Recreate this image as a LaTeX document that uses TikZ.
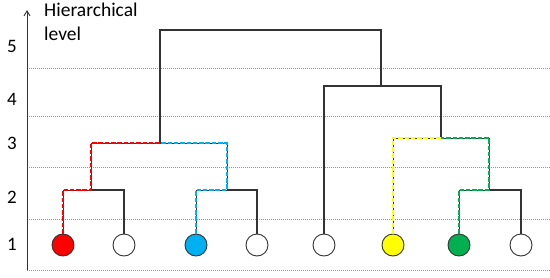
\documentclass[tikz,border=0pt]{standalone}
\usepackage{fontspec}
\setmainfont{Carlito}
\usetikzlibrary{arrows.meta}
\definecolor{cred}{HTML}{FF0000}
\definecolor{cblue}{HTML}{00B0F0}
\definecolor{cyellow}{HTML}{FFFF00}
\definecolor{cgreen}{HTML}{00B050}
\definecolor{lineg}{HTML}{333333}
\begin{document}
\begin{tikzpicture}[x=1pt,y=-1pt,
  leaf/.style={circle,draw=lineg,line width=0.9pt,minimum size=22pt,inner sep=0pt},
  grid/.style={draw=gray!85,line width=0.9pt,dash pattern=on 1pt off 1pt},
  link/.style={draw=lineg,line width=1.1pt},
  under/.style={draw=lineg,line width=0.7pt},
  hl/.style={line width=2pt,dash pattern=on 4.5pt off 1.8pt},
  lvl/.style={font=\fontsize{19}{19}\selectfont,anchor=center}
]
\useasboundingbox (0,0) rectangle (550,277);
% grid lines
\foreach \yy/\nm in {68/g5,116/g4,167/g3,219/g2,270/g1}{
  \coordinate (\nm l) at (27,\yy);
  \coordinate (\nm r) at (550,\yy);
  \draw[grid] (\nm l) -- (\nm r);
}
% axis
\coordinate (ax0) at (27,270);
\coordinate (ax1) at (27,10);
\draw[draw=lineg,line width=0.9pt,-{Straight Barb[length=5pt,width=6pt]}] (ax0) -- (ax1);
% axis labels
\node[lvl] (l5) at (12,46) {5};
\node[lvl] (l4) at (12,99) {4};
\node[lvl] (l3) at (12,143) {3};
\node[lvl] (l2) at (12,197) {2};
\node[lvl] (l1) at (12,244) {1};
\node[font=\fontsize{19.5}{24}\selectfont,anchor=north west,align=left,inner sep=0pt] (title) at (44,3) {Hierarchical\\level};
% leaves
\node[leaf,fill=cred] (n1) at (63,245) {};
\node[leaf,fill=white] (n2) at (124,245) {};
\node[leaf,fill=cblue] (n3) at (196,245) {};
\node[leaf,fill=white] (n4) at (257,245) {};
\node[leaf,fill=white] (n5) at (324,245) {};
\node[leaf,fill=cyellow] (n6) at (393,245) {};
\node[leaf,fill=cgreen] (n7) at (459,245) {};
\node[leaf,fill=white] (n8) at (521,245) {};
% merge points
\coordinate (a) at (91,190);
\coordinate (b) at (227,190);
\coordinate (c) at (160,143);
\coordinate (d) at (489,190);
\coordinate (e) at (441,138);
\coordinate (f) at (381,86);
\coordinate (g) at (271,30);
% black links
\draw[link] (n2.north) |- (a);
\draw[link] (n4.north) |- (b);
\draw[link] (c) |- (g) -| (f);
\draw[link] (n5.north) |- (f);
\draw[link] (e) |- (f);
\draw[link] (n8.north) |- (d);
% underlying thin lines of highlighted paths
\draw[under] (n1.north) |- (a) |- (c);
\draw[under] (n3.north) |- (b) |- (c);
\draw[under] (n6.north) |- (e);
\draw[under] (n7.north) |- (d) |- (e);
% highlighted paths
\draw[hl,cred] (n1.north) |- (a) |- (c);
\draw[hl,cblue] (n3.north) |- (b) |- (c);
\draw[hl,cyellow] (n6.north) |- (e);
\draw[hl,cgreen] (n7.north) |- (d) |- (e);
\end{tikzpicture}
\end{document}
